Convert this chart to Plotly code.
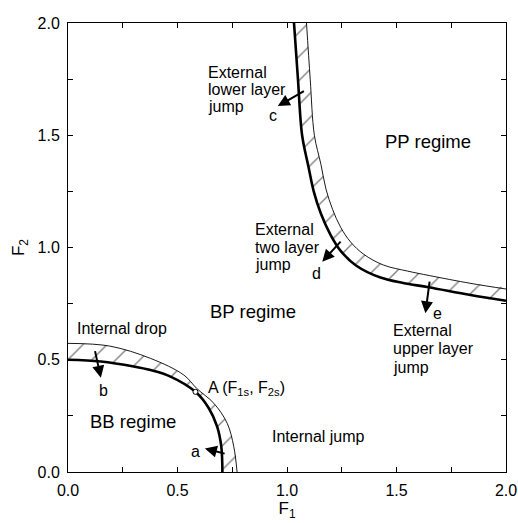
import plotly.graph_objects as go

# ---- data ----
# lower-left (BB) boundary: thick curve and thin curve
bb_thick_f1 = [0.0, 0.15, 0.30, 0.377, 0.468, 0.582, 0.643, 0.681, 0.700, 0.705]
bb_thick_f2 = [0.5, 0.492, 0.47, 0.454, 0.425, 0.357, 0.284, 0.202, 0.113, 0.0]
bb_thin_f1 = [0.0, 0.19, 0.377, 0.529, 0.588, 0.666, 0.727, 0.757, 0.772]
bb_thin_f2 = [0.573, 0.561, 0.506, 0.432, 0.372, 0.306, 0.217, 0.113, 0.0]

# upper-right (PP) boundary: thick curve and thin curve
pp_thick_f1 = [1.032, 1.050, 1.069, 1.098, 1.122, 1.155, 1.197, 1.245, 1.315, 1.427, 1.53, 1.647, 1.838, 2.0]
pp_thick_f2 = [2.0, 1.75, 1.50, 1.36, 1.25, 1.15, 1.06, 0.985, 0.92, 0.866, 0.842, 0.823, 0.788, 0.763]
pp_thin_f1 = [1.089, 1.106, 1.125, 1.155, 1.178, 1.208, 1.245, 1.29, 1.35, 1.44, 1.55, 1.65, 1.84, 2.0]
pp_thin_f2 = [2.0, 1.75, 1.50, 1.37, 1.26, 1.17, 1.09, 1.025, 0.97, 0.922, 0.895, 0.875, 0.840, 0.815]

point_A = (0.582, 0.357)

# arrows: (label, head_f1, head_f2, tail_f1, tail_f2, label_f1, label_f2)
arrows = [
    ("a", 0.625, 0.105, 0.722, 0.080, 0.582, 0.090),
    ("b", 0.150, 0.420, 0.122, 0.545, 0.164, 0.361),
    ("c", 0.958, 1.630, 1.084, 1.700, 0.938, 1.588),
    ("d", 1.161, 0.937, 1.251, 1.033, 1.135, 0.886),
    ("e", 1.632, 0.707, 1.652, 0.855, 1.686, 0.706),
]

# multi-line labels: one entry per line (text, f1, f2)
block_labels = [
    ("External", 0.628, 1.781), ("lower layer", 0.628, 1.705), ("jump", 0.628, 1.630),
    ("External", 0.846, 1.082), ("two layer", 0.846, 1.000), ("jump", 0.846, 0.926),
    ("External", 1.475, 0.630), ("upper layer", 1.475, 0.548), ("jump", 1.475, 0.466),
    ("Internal drop", 0.034, 0.637),
    ("Internal jump", 0.923, 0.157),
    ("A (F<sub>1s</sub>, F<sub>2s</sub>)", 0.628, 0.374),
]
regime_labels = [
    ("PP regime", 1.646, 1.471),
    ("BP regime", 0.846, 0.714),
    ("BB regime", 0.299, 0.223),
]

axis_ticks = [0.0, 0.5, 1.0, 1.5, 2.0]
axis_ticktext = ["0.0", "0.5", "1.0", "1.5", "2.0"]

FONT = "Liberation Sans, Arial, Helvetica, sans-serif"

fig = go.Figure()

# hatched bands (pattern fill)
hatch = dict(shape="/", size=17, solidity=0.08, fgcolor="black", bgcolor="rgba(0,0,0,0)")
for xs_in, ys_in, xs_out, ys_out in [(bb_thick_f1, bb_thick_f2, bb_thin_f1, bb_thin_f2),
                                     (pp_thick_f1, pp_thick_f2, pp_thin_f1, pp_thin_f2)]:
    fig.add_trace(go.Scatter(
        x=xs_in + xs_out[::-1], y=ys_in + ys_out[::-1],
        mode="lines", line=dict(width=0, color="black", shape="spline", smoothing=1.0),
        fill="toself", fillcolor="rgba(0,0,0,0)", fillpattern=hatch,
        hoverinfo="skip", showlegend=False))

# thin curves
for xs, ys in [(bb_thin_f1, bb_thin_f2), (pp_thin_f1, pp_thin_f2)]:
    fig.add_trace(go.Scatter(x=xs, y=ys, mode="lines",
                             line=dict(width=0.9, color="black", shape="spline", smoothing=1.0),
                             hoverinfo="skip", showlegend=False))
# thick curves
for xs, ys in [(bb_thick_f1, bb_thick_f2), (pp_thick_f1, pp_thick_f2)]:
    fig.add_trace(go.Scatter(x=xs, y=ys, mode="lines",
                             line=dict(width=2.6, color="black", shape="spline", smoothing=1.0),
                             hoverinfo="skip", showlegend=False))

# point A
fig.add_trace(go.Scatter(x=[point_A[0]], y=[point_A[1]], mode="markers",
                         marker=dict(size=5, color="white", line=dict(color="black", width=1)),
                         hoverinfo="skip", showlegend=False))

annotations = []
for lab, hx, hy, tx, ty, lx, ly in arrows:
    annotations.append(dict(x=hx, y=hy, ax=tx, ay=ty, xref="x", yref="y", axref="x", ayref="y",
                            text="", showarrow=True, arrowhead=2, arrowsize=1.2, arrowwidth=2,
                            arrowcolor="black"))
    annotations.append(dict(x=lx, y=ly, xref="x", yref="y", text=lab, showarrow=False,
                            xanchor="center", yanchor="middle",
                            font=dict(family=FONT, size=16, color="black")))
for txt, x, y in block_labels:
    annotations.append(dict(x=x, y=y, xref="x", yref="y", text=txt, showarrow=False,
                            xanchor="left", yanchor="middle",
                            font=dict(family=FONT, size=16, color="black")))
for txt, x, y in regime_labels:
    annotations.append(dict(x=x, y=y, xref="x", yref="y", text=txt, showarrow=False,
                            xanchor="center", yanchor="middle",
                            font=dict(family=FONT, size=18.5, color="black")))


def axis_style(title, standoff):
    return dict(range=[0, 2], showgrid=False, zeroline=False, showline=True,
                linecolor="black", linewidth=1, mirror="ticks", automargin=False,
                ticks="inside", ticklen=5, tickcolor="black", tickwidth=1,
                tickvals=axis_ticks, ticktext=axis_ticktext, ticklabelstandoff=4,
                tickfont=dict(family=FONT, size=16, color="black"),
                minor=dict(dtick=0.25, tick0=0, ticks="inside", ticklen=5,
                           tickcolor="black", tickwidth=1),
                title=dict(text=title, standoff=standoff, font=dict(family=FONT, size=17)))


fig.update_layout(
    width=518, height=523,
    margin=dict(l=67.5, r=12, t=23, b=51, autoexpand=False),
    paper_bgcolor="white", plot_bgcolor="white",
    font=dict(family=FONT, size=16, color="black"),
    xaxis=axis_style("F<sub>1</sub>", 2),
    yaxis=axis_style("F<sub>2</sub>", 8),
    annotations=annotations,
    showlegend=False,
)

# remove the default page margin so the figure fills the window exactly
fig.write_html("out.html",
               config={"displayModeBar": False},
               post_script="document.body.style.margin='0';document.body.style.overflow='hidden';")
